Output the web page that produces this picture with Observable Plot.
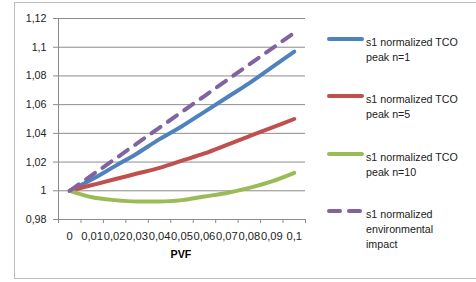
<!DOCTYPE html>
<html>
<head>
<meta charset="utf-8">
<script src="https://cdn.jsdelivr.net/npm/d3@7"></script>
<script src="https://cdn.jsdelivr.net/npm/@observablehq/plot@0.6"></script>
<style>
  html, body { margin: 0; padding: 0; background: #fff; }
  #wrap { position: relative; width: 476px; height: 282px; overflow: hidden; font-family: "Liberation Sans", Arial, sans-serif; }
  #border { position: absolute; left: 14px; top: 2px; width: 470px; height: 277px; border: 1px solid #bdbdbd; box-sizing: border-box; }
  #chart { position: absolute; left: 0; top: 0; }
  .leg { position: absolute; left: 366px; font-size: 10.7px; line-height: 15px; color: #222; }
  .legsw { position: absolute; left: 325px; }
  #xlabel { position: absolute; top: 248px; left: 131px; width: 100px; text-align: center; font-weight: bold; font-size: 10.7px; }
</style>
</head>
<body>
<div id="wrap">
  <div id="border"></div>
  <div id="chart"></div>
  <div id="xlabel">PVF</div>
</div>
<script>
const pvfLabels = ["0", "0,01", "0,02", "0,03", "0,04", "0,05", "0,06", "0,07", "0,08", "0,09", "0,1"];
const tcoN1  = [1, 1.008, 1.017, 1.026, 1.036, 1.045, 1.055, 1.065, 1.075, 1.086, 1.097];
const tcoN5  = [1, 1.004, 1.008, 1.012, 1.016, 1.021, 1.026, 1.032, 1.038, 1.044, 1.050];
const tcoN10 = [1, 0.9955, 0.9935, 0.9925, 0.9925, 0.9935, 0.996, 0.9985, 1.002, 1.0065, 1.0125];
const envImpact = [1, 1.011, 1.022, 1.033, 1.044, 1.055, 1.066, 1.077, 1.088, 1.099, 1.110];
const yTicks = [0.98, 1, 1.02, 1.04, 1.06, 1.08, 1.1, 1.12];

const seriesNames = ["s1 normalized TCO peak n=1", "s1 normalized TCO peak n=5", "s1 normalized TCO peak n=10", "s1 normalized environmental impact"];
const seriesLines = [["s1 normalized TCO", "peak n=1"], ["s1 normalized TCO", "peak n=5"], ["s1 normalized TCO", "peak n=10"], ["s1 normalized", "environmental", "impact"]];
const seriesValues = [tcoN1, tcoN5, tcoN10, envImpact];
const colors = ["#4F81BD", "#C0504D", "#9BBB59", "#8064A2"];
const dashes = [null, null, null, "11,9"];

const idx = d3.range(pvfLabels.length);
const fmt = d => String(+d.toFixed(2)).replace(".", ",");

const lineMarks = seriesValues.map((vals, s) => Plot.line(idx.map(i => ({i, v: vals[i]})), {
  x: "i", y: "v", stroke: colors[s], strokeWidth: 4, strokeLinecap: "round", strokeLinejoin: "round",
  strokeDasharray: dashes[s] || undefined, curve: "monotone-x"
}));

const plot = Plot.plot({
  width: 476, height: 282,
  marginLeft: 58, marginRight: 171, marginTop: 18, marginBottom: 63,
  style: { fontFamily: "Liberation Sans, Arial, sans-serif", fontSize: "10.7px", color: "#222", background: "transparent" },
  x: { type: "linear", domain: [-0.5, 10.5] },
  y: { domain: [0.98, 1.12] },
  marks: [
    Plot.gridY(yTicks, { stroke: "#8c8c8c", strokeOpacity: 1, strokeWidth: 1 }),
    Plot.ruleX([-0.5], { stroke: "#8c8c8c" }),
    Plot.ruleY([0.98], { stroke: "#8c8c8c" }),
    Plot.axisY({ ticks: yTicks, tickFormat: fmt, tickSize: 5, tickPadding: 7, stroke: "#8c8c8c", label: null }),
    Plot.axisX({ ticks: d3.range(-0.5, 11, 1), tickFormat: () => "", tickSize: 4, stroke: "#8c8c8c", label: null }),
    Plot.axisX({ ticks: idx, tickFormat: i => pvfLabels[i], tickSize: 0, tickPadding: 13, label: null, fontSize: 11.2 }),
    ...lineMarks
  ]
});
document.getElementById("chart").appendChild(plot);

const tops = [34.5, 91.5, 149.5, 206.5];
const wrap = document.getElementById("wrap");
seriesNames.forEach((name, s) => {
  const sw = document.createElementNS("http://www.w3.org/2000/svg", "svg");
  sw.setAttribute("class", "legsw");
  sw.setAttribute("width", 42); sw.setAttribute("height", 8);
  sw.style.top = (tops[s] + 0.5) + "px";
  const ln = document.createElementNS("http://www.w3.org/2000/svg", "line");
  ln.setAttribute("x1", 4); ln.setAttribute("x2", 37); ln.setAttribute("y1", 4); ln.setAttribute("y2", 4);
  ln.setAttribute("stroke", colors[s]); ln.setAttribute("stroke-width", 4); ln.setAttribute("stroke-linecap", "round");
  if (dashes[s]) ln.setAttribute("stroke-dasharray", dashes[s]);
  sw.appendChild(ln);
  wrap.appendChild(sw);
  const t = document.createElement("div");
  t.className = "leg";
  t.style.top = tops[s] + "px";
  t.innerHTML = seriesLines[s].join("<br>");
  t.title = name;
  wrap.appendChild(t);
});
</script>
</body>
</html>
